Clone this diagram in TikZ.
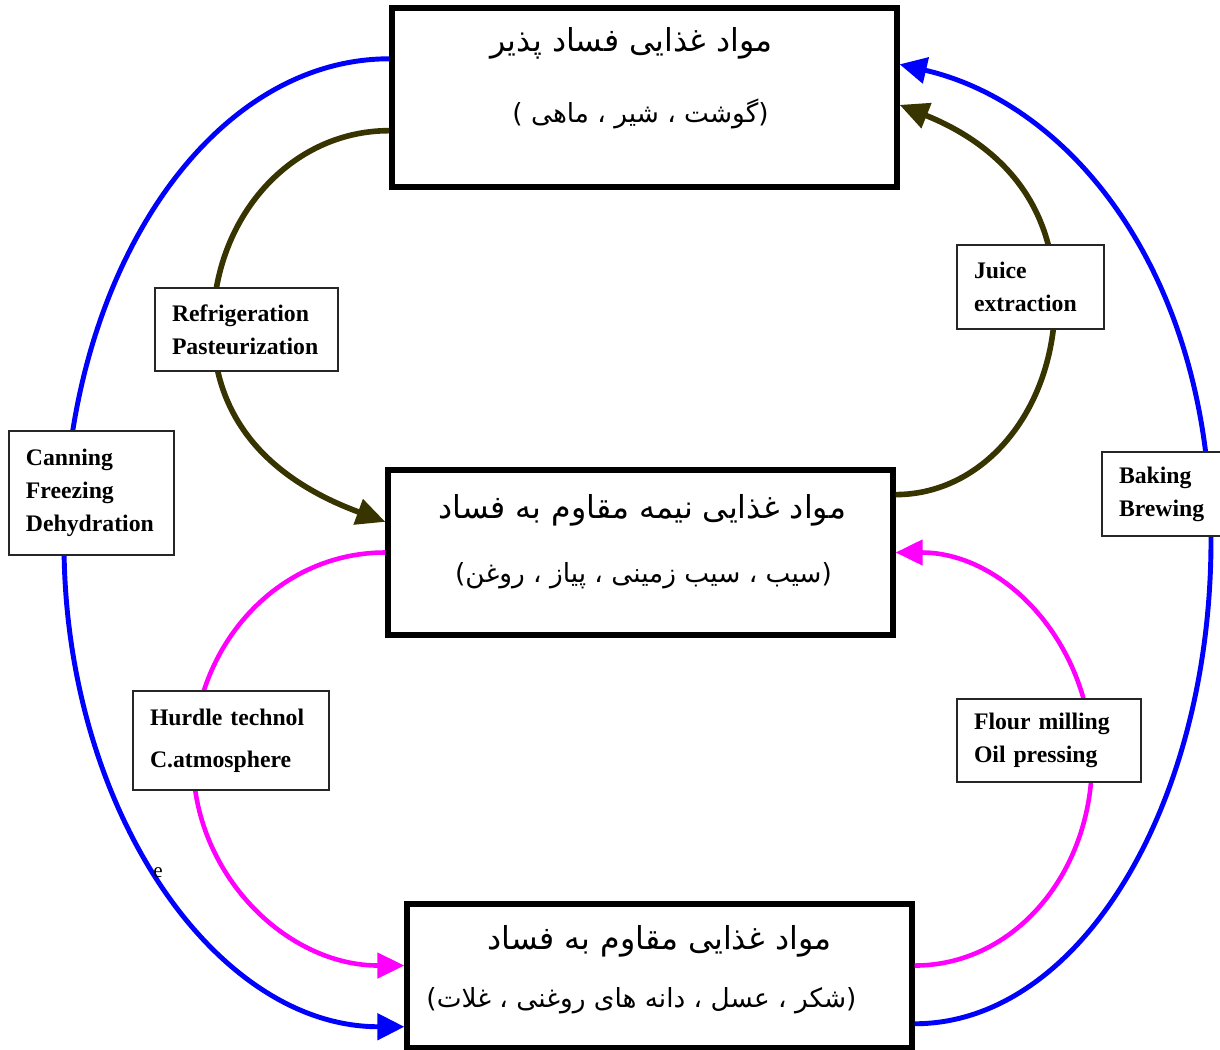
\documentclass[tikz,border=0pt]{standalone}
\usepackage{fontspec}
\setmainfont{Liberation Serif}
\newfontfamily\arabicfont[Script=Arabic]{DejaVu Sans}
\TeXXeTstate=1
\usetikzlibrary{arrows.meta,calc}
\newlength\pxu
\setlength\pxu{0.02cm}
\definecolor{olivedark}{RGB}{55,52,0}
\definecolor{blueline}{RGB}{0,0,255}
\definecolor{magline}{RGB}{255,0,255}
\tikzset{
  mainbox/.style={draw=black, line width=3pt, fill=white, inner sep=0pt, minimum width=505\pxu},
  ptexta/.style={font=\arabicfont\fontsize{18}{22}\selectfont, inner sep=0pt},
  ptextb/.style={font=\arabicfont\fontsize{15}{19}\selectfont, inner sep=0pt},
  lbl/.style={draw=black!85, line width=0.9pt, fill=white, inner xsep=17\pxu, inner ysep=0pt, align=left,
     font=\bfseries\fontsize{13.5}{18.8}\selectfont},
  bluearc/.style={draw=blueline, line width=2.8pt, -{Triangle[length=0.54cm,width=0.52cm]}},
  olivearc/.style={draw=olivedark, line width=3.2pt, -{Triangle[length=0.58cm,width=0.52cm]}},
  magarc/.style={draw=magline, line width=2.6pt, -{Triangle[length=0.54cm,width=0.5cm]}}
}
\begin{document}
\begin{tikzpicture}[x=0.02cm, y=-0.02cm]
\useasboundingbox (0,0) rectangle (1220,1050);
\fill[white] (0,0) rectangle (1220,1050);

% main boxes
\node[mainbox, minimum height=179\pxu] (top) at (644.5,97.5) {};
\node[mainbox, minimum height=165\pxu] (mid) at (640.5,552.5) {};
\node[mainbox, minimum height=144\pxu] (bot) at (659.5,976) {};

% Persian texts
\node[ptexta] (top1) at ($(top.north)+(-13,38)$) {\beginR مواد غذایی فساد پذیر\endR};
\node[ptextb] (top2) at ($(top.north)+(-4,109)$) {\beginR (گوشت ، شیر ، ماهی )\endR};
\node[ptexta] (mid1) at ($(mid.north)+(2,43)$) {\beginR مواد غذایی نیمه مقاوم به فساد\endR};
\node[ptextb] (mid2) at ($(mid.north)+(3,108)$) {\beginR (سیب ، سیب زمینی ، پیاز ، روغن)\endR};
\node[ptexta] (bot1) at ($(bot.north)+(0,40)$) {\beginR مواد غذایی مقاوم به فساد\endR};
\node[ptextb] (bot2) at ($(bot.north)+(-18,99)$) {\beginR (شکر ، عسل ، دانه های روغنی ، غلات)\endR};

% blue outer loop
\draw[bluearc] ($(top.north west)!0.29!(top.south west)$) .. controls +(-181,0) and +(0,-267) .. (64,543)
   .. controls +(0,266) and +(-189,0) .. ($(bot.north west)!0.84!(bot.south west)$);
\draw[bluearc] ($(bot.north east)!0.82!(bot.south east)$) .. controls +(165,0) and +(0,265) .. (1211,540)
   .. controls +(0,-264) and +(173,40) .. ($(top.north east)!0.32!(top.south east)$);

% olive loop
\draw[olivearc] ($(top.north west)!0.68!(top.south west)$) .. controls +(-99,0) and +(0,-109) .. (213,327)
   .. controls +(0,108) and +(-95,-35) .. ($(mid.north west)!0.32!(mid.south west)$);
\draw[olivearc] ($(mid.north east)!0.16!(mid.south east)$) .. controls +(89,0) and +(0,109) .. (1055,300)
   .. controls +(0,-108) and +(87,35) .. ($(top.north east)!0.54!(top.south east)$);

% magenta loop
\draw[magarc] ($(mid.north west)!0.5!(mid.south west)$) .. controls +(-108,0) and +(0,-114) .. (193,760)
   .. controls +(0,114) and +(-118,0) .. ($(bot.north west)!0.43!(bot.south west)$);
\draw[magarc] ($(bot.north east)!0.43!(bot.south east)$) .. controls +(99,0) and +(0,114) .. (1092,760)
   .. controls +(0,-114) and +(110,0) .. ($(mid.north east)!0.5!(mid.south east)$);

% labels
\node[lbl, text width=149\pxu, minimum height=83\pxu] (refr) at (246.5,329.5) {Refrigeration\\Pasteurization};
\node[lbl, text width=113\pxu, minimum height=84\pxu] (juice) at (1030.5,287) {Juice\\extraction};
\node[lbl, text width=131\pxu, minimum height=124\pxu] (can) at (91.5,493) {Canning\\Freezing\\Dehydration};
\node[lbl, text width=89\pxu, minimum height=84\pxu] (bake) at (1163.5,494) {Baking\\Brewing};
\node[lbl, text width=162\pxu, minimum height=99\pxu] (hurdle) at (231,740.5) {Hurdle technol\\[5pt]C.atmosphere};
\node[lbl, text width=150\pxu, minimum height=83\pxu] (flour) at (1049,740.5) {Flour milling\\Oil pressing};

\node[inner sep=0pt, font=\fontsize{12}{13}\selectfont] (stray) at (158,873) {e};
\end{tikzpicture}
\end{document}
